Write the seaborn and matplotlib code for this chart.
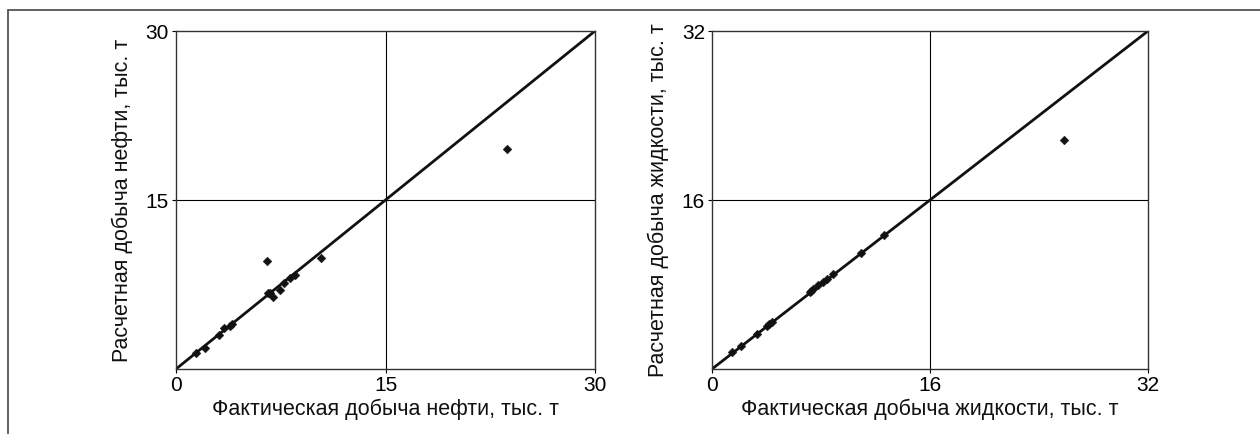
import matplotlib
matplotlib.use("Agg")
import matplotlib.pyplot as plt
import seaborn as sns
import pandas as pd
from matplotlib.lines import Line2D

# ---- data ----
oil_fact = [1.43, 2.08, 3.10, 3.46, 3.87, 3.98, 6.49, 6.56, 6.70, 6.97, 7.44, 7.75, 8.16, 8.52, 10.38, 23.72]
oil_calc = [1.39, 1.89, 3.02, 3.61, 3.82, 3.95, 9.58, 6.72, 6.75, 6.42, 7.01, 7.60, 8.05, 8.34, 9.82, 19.55]

liq_fact = [1.49, 2.10, 3.28, 4.01, 4.20, 4.38, 7.19, 7.30, 7.44, 7.80, 8.17, 8.47, 8.86, 10.91, 12.65, 25.86]
liq_calc = [1.58, 2.21, 3.31, 4.07, 4.25, 4.45, 7.32, 7.40, 7.55, 7.95, 8.25, 8.55, 9.00, 11.01, 12.72, 21.71]

oil_ticks = [0, 15, 30]
liq_ticks = [0, 16, 32]

oil_xlabel = "Фактическая добыча нефти, тыс. т"
oil_ylabel = "Расчетная добыча нефти, тыс. т"
liq_xlabel = "Фактическая добыча жидкости, тыс. т"
liq_ylabel = "Расчетная добыча жидкости, тыс. т"

sns.set_style("white")
plt.rcParams["font.family"] = ["Liberation Sans", "DejaVu Sans"]

fig = plt.figure(figsize=(12.6, 4.34), dpi=100)
H = 434.0
W = 1260.0
ax1 = fig.add_axes([176 / W, 1 - 369 / H, (595 - 176) / W, (369 - 31) / H])
ax2 = fig.add_axes([712 / W, 1 - 369 / H, (1148 - 712) / W, (369 - 31) / H])


def draw(ax, xs, ys, ticks, xl, yl):
    df = pd.DataFrame({"x": xs, "y": ys})
    lo, mid, hi = ticks
    ax.set_xlim(lo, hi)
    ax.set_ylim(lo, hi)
    ax.axvline(mid, color="black", lw=0.8, zorder=1)
    ax.axhline(mid, color="black", lw=0.8, zorder=1)
    ax.axline((0, 0), slope=1, color="#111111", lw=2.0, zorder=2)
    sns.scatterplot(data=df, x="x", y="y", ax=ax, marker="D", s=20,
                    color="#111111", edgecolor="#111111", linewidth=0.3, zorder=3)
    ax.set_xticks(ticks)
    ax.set_xticklabels([str(t) for t in ticks])
    ax.set_yticks(ticks[1:])
    ax.set_yticklabels([str(t) for t in ticks[1:]])
    ax.tick_params(axis="both", direction="out", length=3, width=0.8,
                   colors="black", labelsize=15, pad=2, bottom=True, left=True)
    ax.tick_params(axis="x", pad=2)
    ax.tick_params(axis="y", pad=2)
    for s in ax.spines.values():
        s.set_color("#333333")
        s.set_linewidth(1.0)
    ax.set_xlabel(xl, fontsize=15.5, labelpad=3, color="#111111")
    ax.set_ylabel(yl, fontsize=15.5, labelpad=9, color="#111111")


draw(ax1, oil_fact, oil_calc, oil_ticks, oil_xlabel, oil_ylabel)
draw(ax2, liq_fact, liq_calc, liq_ticks, liq_xlabel, liq_ylabel)

# outer frame (top and left lines)
fig.add_artist(Line2D([8 / W, 1.0], [1 - 10 / H, 1 - 10 / H], transform=fig.transFigure,
                      color="#555555", lw=1.3))
fig.add_artist(Line2D([8 / W, 8 / W], [0.0, 1 - 10 / H], transform=fig.transFigure,
                      color="#555555", lw=1.3))

fig.savefig("out.png", dpi=100, facecolor="white")
